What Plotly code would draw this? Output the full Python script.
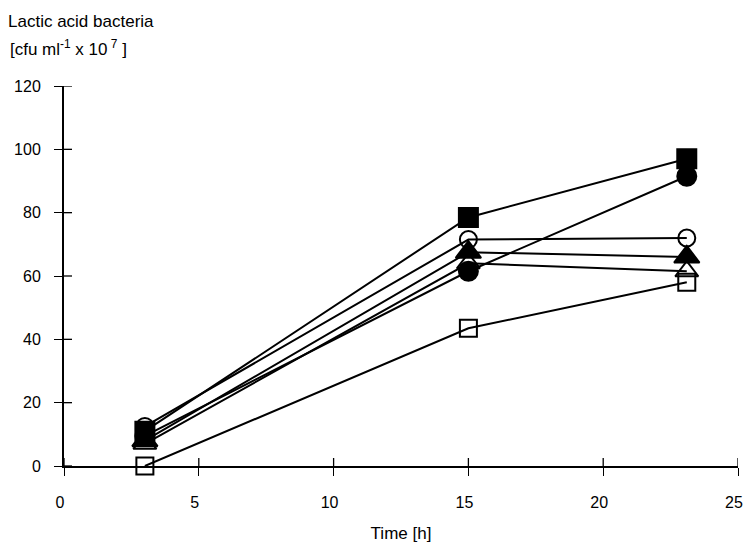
import plotly.graph_objects as go

time_h = [3, 15, 23.1]
filled_square = [11, 78.5, 97]
filled_circle = [9.5, 61.5, 91.5]
open_circle = [12.5, 71.5, 72]
filled_triangle = [8, 67.5, 66]
open_triangle = [7, 64, 61.5]
open_square = [0, 43.5, 58]

x_ticks = [0, 5, 10, 15, 20, 25]
y_ticks = [0, 20, 40, 60, 80, 100, 120]

series = [
    ("open square", open_square, "square-open", 17),
    ("open triangle", open_triangle, "triangle-up-open", 20),
    ("filled triangle", filled_triangle, "triangle-up", 22),
    ("filled circle", filled_circle, "circle", 19),
    ("open circle", open_circle, "circle-open", 17),
    ("filled square", filled_square, "square", 19),
]

fig = go.Figure()
for name, vals, sym, size in series:
    fig.add_trace(go.Scatter(
        x=time_h, y=vals, name=name, mode="lines+markers",
        line=dict(color="black", width=2),
        marker=dict(symbol=sym, size=size, color="black",
                    line=dict(color="black", width=2)),
        cliponaxis=False,
    ))

FAM = "Liberation Sans, Arial, sans-serif"
tick_font = dict(family=FAM, size=16, color="black")
title_font = dict(family=FAM, size=17, color="black")

L, R, T, B = 64, 7, 86, 77
W, H = 745, 543
TICK_W = 1.3

fig.update_layout(
    width=W, height=H,
    margin=dict(l=L, r=R, t=T, b=B, autoexpand=False),
    paper_bgcolor="white", plot_bgcolor="white",
    showlegend=False,
    font=tick_font,
    xaxis=dict(range=[0, 25], tickvals=x_ticks, ticks="outside", ticklen=8,
               tickwidth=TICK_W, tickcolor="black", showline=True, linecolor="black",
               linewidth=2, showgrid=False, zeroline=False, tickfont=tick_font,
               ticklabelstandoff=13, ticklabelshift=-4,
               ticklabeloverflow="allow", automargin=False,
               title=dict(text="Time [h]", font=title_font, standoff=19)),
    yaxis=dict(range=[0, 120], tickvals=y_ticks, ticks="outside", ticklen=8,
               tickwidth=TICK_W, tickcolor="black", showline=True, linecolor="black",
               linewidth=2, showgrid=False, zeroline=False, tickfont=tick_font,
               ticklabelstandoff=10, ticklabeloverflow="allow", automargin=False),
)

# inside halves of the cross-style ticks
for v in x_ticks:
    fig.add_shape(type="line", xref="x", yref="y", x0=v, x1=v,
                  ysizemode="pixel", yanchor=0, y0=0, y1=8,
                  line=dict(color="black", width=TICK_W), layer="above")
for v in y_ticks:
    fig.add_shape(type="line", xref="x", yref="y", y0=v, y1=v,
                  xsizemode="pixel", xanchor=0, x0=0, x1=8,
                  line=dict(color="black", width=TICK_W), layer="above")

pw = W - L - R
ph = H - T - B
def paper_xy(px, py):
    return (px - L) / pw, (H - B - py) / ph

ax1, ay1 = paper_xy(6, 21)
ax2, ay2 = paper_xy(8, 48)
fig.add_annotation(text="Lactic acid bacteria", x=ax1, y=ay1, xref="paper",
                   yref="paper", showarrow=False, font=title_font,
                   xanchor="left", yanchor="middle")
fig.add_annotation(text="[cfu ml<sup>-1</sup> x 10<sup> 7</sup> ]", x=ax2, y=ay2,
                   xref="paper", yref="paper", showarrow=False, font=title_font,
                   xanchor="left", yanchor="middle")

fig.write_html("out.html", config={"displayModeBar": False},
               post_script="document.body.style.margin='0px';document.body.style.overflow='hidden';")
